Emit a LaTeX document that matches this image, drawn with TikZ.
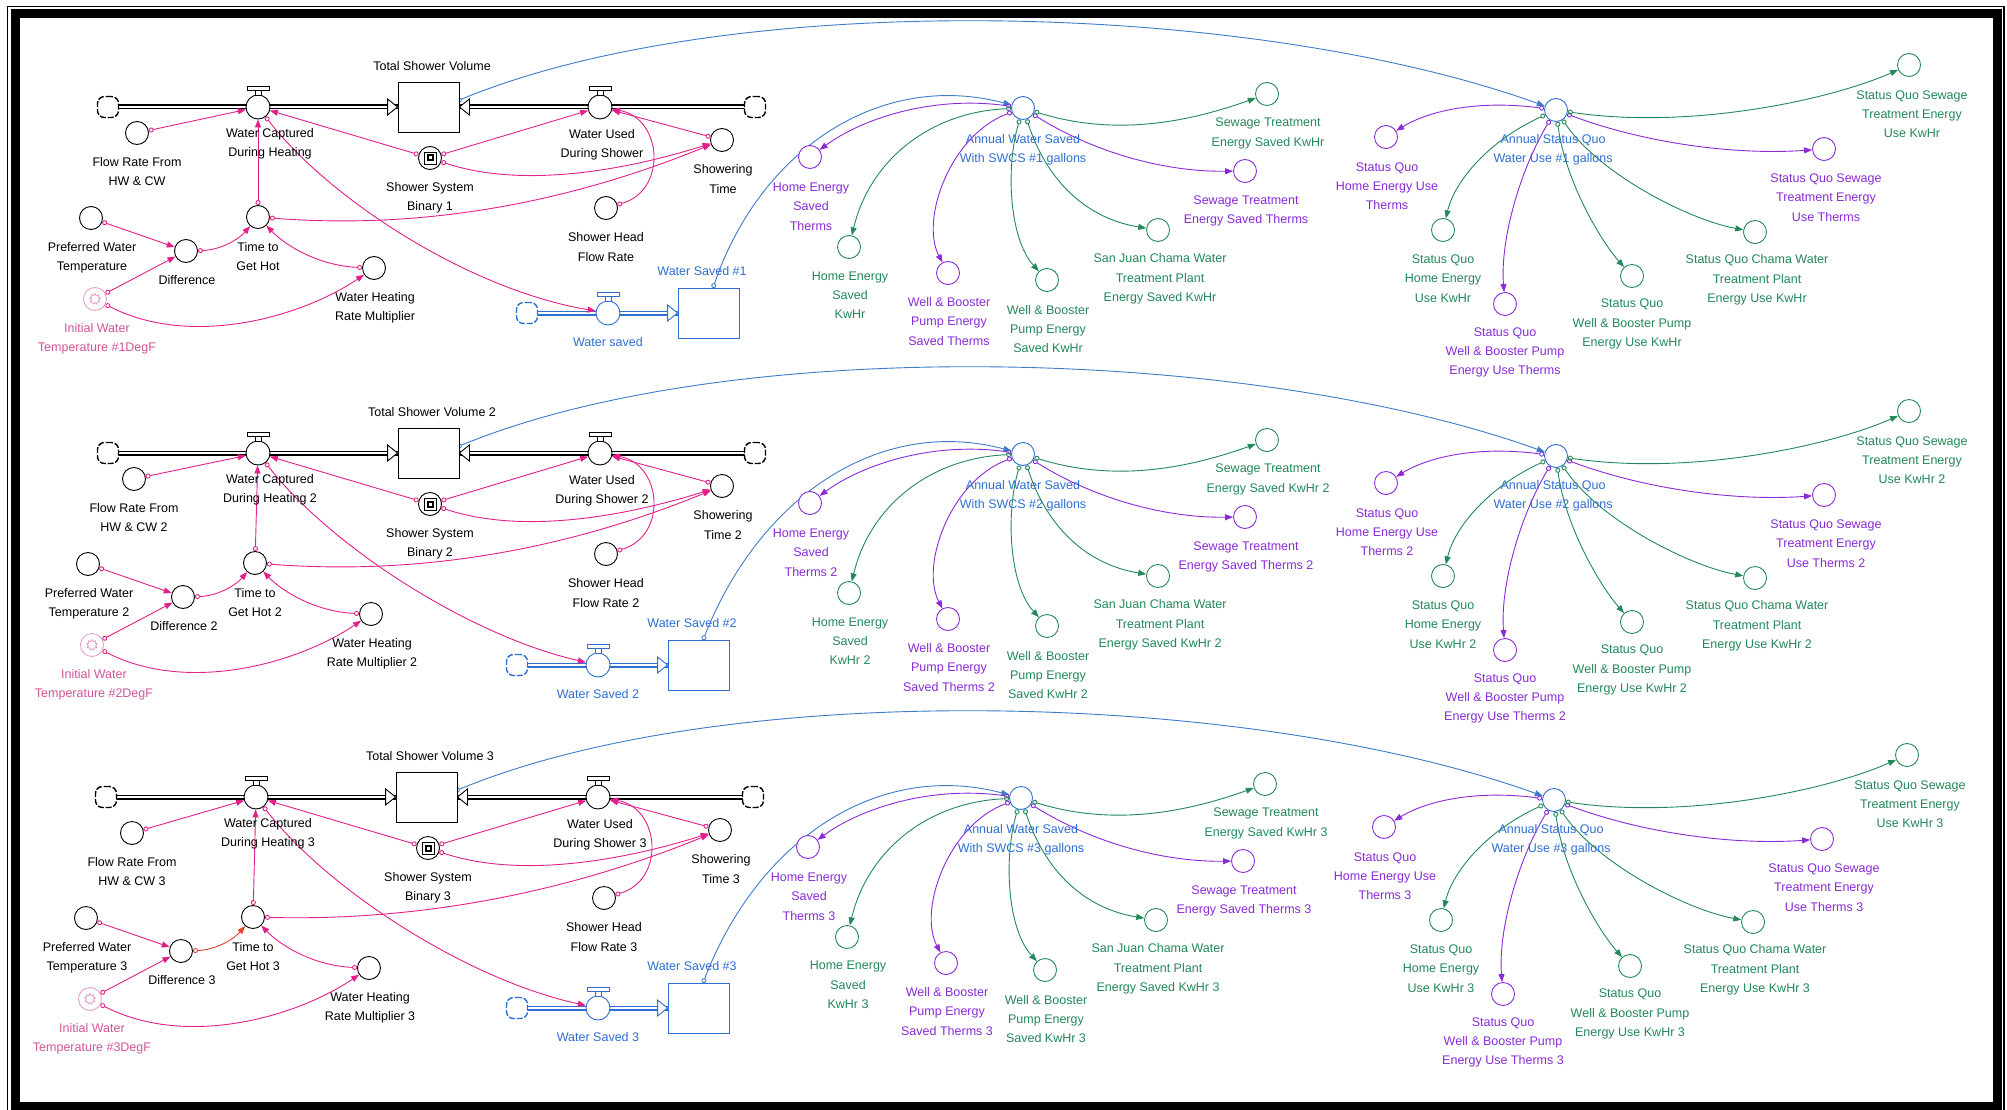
\documentclass[tikz,border=0pt]{standalone}
\usepackage{fontspec}
\setmainfont{Liberation Sans}
\usetikzlibrary{arrows.meta,shapes.geometric}
\definecolor{pk}{HTML}{E3208A}
\definecolor{pkl}{HTML}{D0569A}
\definecolor{bl}{HTML}{2F6FD3}
\definecolor{bll}{HTML}{3D7CCB}
\definecolor{pu}{HTML}{8A2BD8}
\definecolor{gr}{HTML}{23895A}
\definecolor{rd}{HTML}{E5432C}
\pgfdeclarelayer{bg}
\pgfsetlayers{bg,main}
\newcommand\lab{\fontsize{12.5}{19.3}\selectfont}
\tikzset{
 aux/.style={circle,draw,line width=0.9pt,fill=white,minimum size=23pt,inner sep=0pt},
 lbl/.style={align=center,inner sep=0pt,font=\lab},
 stockbox/.style={draw,line width=0.9pt,fill=white,minimum width=61pt,minimum height=50pt,inner sep=0pt},
 cloudy/.style={rectangle,rounded corners=7pt,draw,line width=1.4pt,dash pattern=on 6pt off 1.8pt,minimum width=21pt,minimum height=21pt,inner sep=0pt,fill=white},
 lnk/.style={line width=0.9pt,arrows={Circle[open,length=5pt,width=5pt]-Triangle[length=8pt,width=6pt]}},
 pipeo/.style={line width=5pt},
 pipei/.style={line width=2.2pt,white},
}
\newcommand\mkvalve[4]{%
 \node[aux,draw=#4,minimum size=24pt] (#1) at (#2,#3) {};
 \draw[#4,line width=0.9pt,fill=white] (#2-11,#3-21) rectangle (#2+11,#3-17);
 \draw[#4,line width=0.9pt,fill=white] (#2-3,#3-17) rectangle (#2+3,#3-12);
}
\newcommand\inarrow[3]{%
 \draw[#3,line width=0.9pt,fill=white] (#1) -- ++(-10*#2,-8) -- ++(0,16) -- cycle;
}
\newcommand\modelrow[8]{%
% ---------- main flow ----------
\begin{scope}[shift={#4}]
 \node[cloudy] (cL#1) at (108,107) {};
 \mkvalve{vWC#1}{258}{107}{black}
 \node[stockbox] (TSV#1) at (428.5,107) {};
 \node[lbl] (TSVl#1) at (432,66) {Total Shower Volume#2};
 \mkvalve{vWU#1}{600}{107}{black}
 \node[cloudy] (cR#1) at (755,107) {};
 \node[lbl] (lWC#1) at (270,143.5) {Water Captured\\During Heating#2};
 \node[lbl] (lWU#1) at (602,145) {Water Used\\During Shower#2};
 \node[aux] (SSB#1) at (430,158) {};
 \draw[line width=0.9pt] ([shift={(-6,-6)}]SSB#1.center) rectangle ([shift={(6,6)}]SSB#1.center);
 \fill ([shift={(-3.5,-3.5)}]SSB#1.center) rectangle ([shift={(3.5,3.5)}]SSB#1.center);
 \fill[white] ([shift={(-1.5,-1.5)}]SSB#1.center) rectangle ([shift={(1.5,1.5)}]SSB#1.center);
 \node[lbl] (SSBl#1) at (430,198) {Shower System\\Binary #3};
 \node[aux] (ST#1) at (722,140) {};
 \node[lbl] (STl#1) at (723,179) {Showering\\Time#2};
 \node[aux] (SHFR#1) at (606,208) {};
 \node[lbl] (SHFRl#1) at (606,247) {Shower Head\\Flow Rate#2};
 \coordinate (tsvo#1) at (457,101);
 \inarrow{TSV#1.west}{1}{black}
 \inarrow{TSV#1.east}{-1}{black}
 \begin{pgfonlayer}{bg}
  \draw[pipeo] (cL#1.center) -- (TSV#1.west);
  \draw[pipei] (cL#1.center) -- (TSV#1.west);
  \draw[pipeo] (cR#1.center) -- (TSV#1.east);
  \draw[pipei] (cR#1.center) -- (TSV#1.east);
 \end{pgfonlayer}
\end{scope}
% ---------- left cluster ----------
\begin{scope}[shift={#5}]
 \node[aux] (FR#1) at (137,133) {};
 \node[lbl] (FRl#1) at (137,171.5) {Flow Rate From\\HW \& CW#2};
 \node[aux] (TH#1) at (258,217) {};
 \node[lbl] (THl#1) at (258,256.5) {Time to\\Get Hot#2};
 \node[aux] (PW#1) at (91,218) {};
 \node[lbl] (PWl#1) at (92,257.5) {Preferred Water\\Temperature#2};
 \node[aux] (DF#1) at (186,251) {};
 \node[lbl] (DFl#1) at (187,280) {Difference#2};
 \node[aux,draw=pkl!55] (IW#1) at (95,299) {};
 \node[star,star points=9,star point ratio=1.5,draw=pkl!70,line width=0.6pt,minimum size=11pt,inner sep=0pt] (IWs#1) at (95,299) {};
 \node[lbl,text=pkl] (IWl#1) at (97,338.5) {Initial Water\\Temperature \##3DegF};
 \node[aux] (WH#1) at (374,268) {};
 \node[lbl] (WHl#1) at (375,307.5) {Water Heating\\Rate Multiplier#2};
 \begin{pgfonlayer}{bg}
  \draw[lnk,pk] (PW#1) -- (DF#1);
  \draw[lnk,pk] (IW#1) -- (DF#1);
  \draw[lnk,pk] (IW#1) .. controls (190,348) and (300,318) .. (WH#1);
  \draw[lnk,#8] (DF#1) .. controls (220,250) and (238,240) .. (TH#1);
  \draw[lnk,pk] (WH#1) .. controls (322,266) and (288,248) .. (TH#1);
 \end{pgfonlayer}
\end{scope}
% ---------- water saved cluster ----------
\begin{scope}[shift={#6}]
 \node[cloudy,draw=bl] (cW#1) at (527,313) {};
 \mkvalve{vWS#1}{608}{313}{bl}
 \node[stockbox,draw=bl] (WSs#1) at (708.5,313) {};
 \node[lbl,text=bl] (WSl#1) at (702,271) {Water Saved \##3};
 \node[lbl,text=bl] (vWSl#1) at (608,342) {#7};
 \coordinate (wso#1) at (713,288);
 \inarrow{WSs#1.west}{1}{bl}
 \begin{pgfonlayer}{bg}
  \draw[pipeo,bl] (cW#1.center) -- (WSs#1.west);
  \draw[pipei] (cW#1.center) -- (WSs#1.west);
 \end{pgfonlayer}
\end{scope}
% ---------- right side + links ----------
\begin{scope}[shift={#4}]
 \node[aux,draw=bl] (AWS#1) at (1023,108) {};
 \node[lbl,text=bl] (AWSl#1) at (1023,149.5) {Annual Water Saved\\With SWCS \##3 gallons};
 \node[aux,draw=pu] (HEST#1) at (810,157) {};
 \node[lbl,text=pu] (HESTl#1) at (811,206.5) {Home Energy\\Saved\\Therms#2};
 \node[aux,draw=gr] (HESK#1) at (849,247) {};
 \node[lbl,text=gr] (HESKl#1) at (850,295) {Home Energy\\Saved\\KwHr#2};
 \node[aux,draw=pu] (WBT#1) at (948,273) {};
 \node[lbl,text=pu] (WBTl#1) at (949,321.5) {Well \& Booster\\Pump Energy\\Saved Therms#2};
 \node[aux,draw=gr] (WBK#1) at (1047,280) {};
 \node[lbl,text=gr] (WBKl#1) at (1048,329) {Well \& Booster\\Pump Energy\\Saved KwHr#2};
 \node[aux,draw=gr] (SJ#1) at (1158,230) {};
 \node[lbl,text=gr] (SJl#1) at (1160,279) {San Juan Chama Water\\Treatment Plant\\Energy Saved KwHr#2};
 \node[aux,draw=pu] (STT#1) at (1245,171) {};
 \node[lbl,text=pu] (STTl#1) at (1246,211) {Sewage Treatment\\Energy Saved Therms#2};
 \node[aux,draw=gr] (STK#1) at (1267,94) {};
 \node[lbl,text=gr] (STKl#1) at (1268,133.5) {Sewage Treatment\\Energy Saved KwHr#2};
 \node[aux,draw=bl] (ASQ#1) at (1556,110) {};
 \node[lbl,text=bl] (ASQl#1) at (1553,149.5) {Annual Status Quo\\Water Use \##3 gallons};
 \node[aux,draw=pu] (SQHT#1) at (1386,137) {};
 \node[lbl,text=pu] (SQHTl#1) at (1387,186) {Status Quo\\Home Energy Use\\Therms#2};
 \node[aux,draw=gr] (SQHK#1) at (1443,230) {};
 \node[lbl,text=gr] (SQHKl#1) at (1443,278.5) {Status Quo\\Home Energy\\Use KwHr#2};
 \node[aux,draw=pu] (SQWT#1) at (1505,304) {};
 \node[lbl,text=pu] (SQWTl#1) at (1505,352.5) {Status Quo\\Well \& Booster Pump\\Energy Use Therms#2};
 \node[aux,draw=gr] (SQWK#1) at (1632,276) {};
 \node[lbl,text=gr] (SQWKl#1) at (1632,324) {Status Quo\\Well \& Booster Pump\\Energy Use KwHr#2};
 \node[aux,draw=gr] (SQCK#1) at (1755,232) {};
 \node[lbl,text=gr] (SQCKl#1) at (1757,280) {Status Quo Chama Water\\Treatment Plant\\Energy Use KwHr#2};
 \node[aux,draw=pu] (SQST#1) at (1824,149) {};
 \node[lbl,text=pu] (SQSTl#1) at (1826,197.5) {Status Quo Sewage\\Treatment Energy\\Use Therms#2};
 \node[aux,draw=gr] (SQSK#1) at (1909,65) {};
 \node[lbl,text=gr] (SQSKl#1) at (1912,114) {Status Quo Sewage\\Treatment Energy\\Use KwHr#2};
 \begin{pgfonlayer}{bg}
  % pink links
  \draw[lnk,pk] (FR#1) -- (vWC#1);
  \draw[lnk,pk] (TH#1) -- (vWC#1);
  \draw[lnk,pk] (TH#1) .. controls (450,232) and (600,190) .. (ST#1);
  \draw[lnk,pk] (vWC#1) .. controls (330,200) and (470,290) .. (vWS#1);
  \draw[lnk,pk] (SSB#1) -- (vWC#1);
  \draw[lnk,pk] (SSB#1) -- (vWU#1);
  \draw[lnk,pk] (SSB#1) .. controls (520,188) and (620,172) .. (ST#1);
  \draw[lnk,pk] (ST#1) -- (vWU#1);
  \draw[lnk,pk] (SHFR#1) .. controls (668,190) and (662,118) .. (vWU#1);
  % blue links
  \draw[lnk,bll] (wso#1) .. controls (760,150) and (880,70) .. (AWS#1);
  \draw[lnk,bll] (tsvo#1) .. controls (730,-12) and (1250,0) .. (ASQ#1);
  % annual water saved
  \draw[lnk,pu] (AWS#1) .. controls (930,95) and (860,120) .. (HEST#1);
  \draw[lnk,gr] (AWS#1) .. controls (930,112) and (870,160) .. (HESK#1);
  \draw[lnk,pu] (AWS#1) .. controls (950,135) and (920,220) .. (WBT#1);
  \draw[lnk,gr] (AWS#1) .. controls (1005,170) and (1010,240) .. (WBK#1);
  \draw[lnk,gr] (AWS#1) .. controls (1050,190) and (1095,220) .. (SJ#1);
  \draw[lnk,pu] (AWS#1) .. controls (1090,150) and (1160,172) .. (STT#1);
  \draw[lnk,gr] (AWS#1) .. controls (1110,135) and (1180,125) .. (STK#1);
  % status quo
  \draw[lnk,pu] (ASQ#1) .. controls (1480,100) and (1430,110) .. (SQHT#1);
  \draw[lnk,gr] (ASQ#1) .. controls (1490,140) and (1455,180) .. (SQHK#1);
  \draw[lnk,pu] (ASQ#1) .. controls (1520,170) and (1500,240) .. (SQWT#1);
  \draw[lnk,gr] (ASQ#1) .. controls (1565,180) and (1600,240) .. (SQWK#1);
  \draw[lnk,gr] (ASQ#1) .. controls (1600,175) and (1690,220) .. (SQCK#1);
  \draw[lnk,pu] (ASQ#1) .. controls (1650,145) and (1740,155) .. (SQST#1);
  \draw[lnk,gr] (ASQ#1) .. controls (1690,130) and (1830,100) .. (SQSK#1);
 \end{pgfonlayer}
\end{scope}
}
\begin{document}
\begin{tikzpicture}[x=1pt,y=-1pt]
\useasboundingbox (0,0) rectangle (2007,1110);
\begin{pgfonlayer}{bg}
\fill[white] (0,0) rectangle (2007,1110);
\end{pgfonlayer}
\draw[line width=1.6pt] (7.5,6.5) rectangle (2004,1130);
\draw[line width=9pt] (15,14) rectangle (1997,1106);
\modelrow{a}{}{1}{(0,0)}{(0,0)}{(0,0)}{Water saved}{pk}
\modelrow{b}{ 2}{2}{(0,346)}{(-3,346)}{(-10,352)}{Water Saved 2}{pk}
\modelrow{c}{ 3}{3}{(-2,690)}{(-5,700)}{(-10,695)}{Water Saved 3}{rd}
\end{tikzpicture}
\end{document}
